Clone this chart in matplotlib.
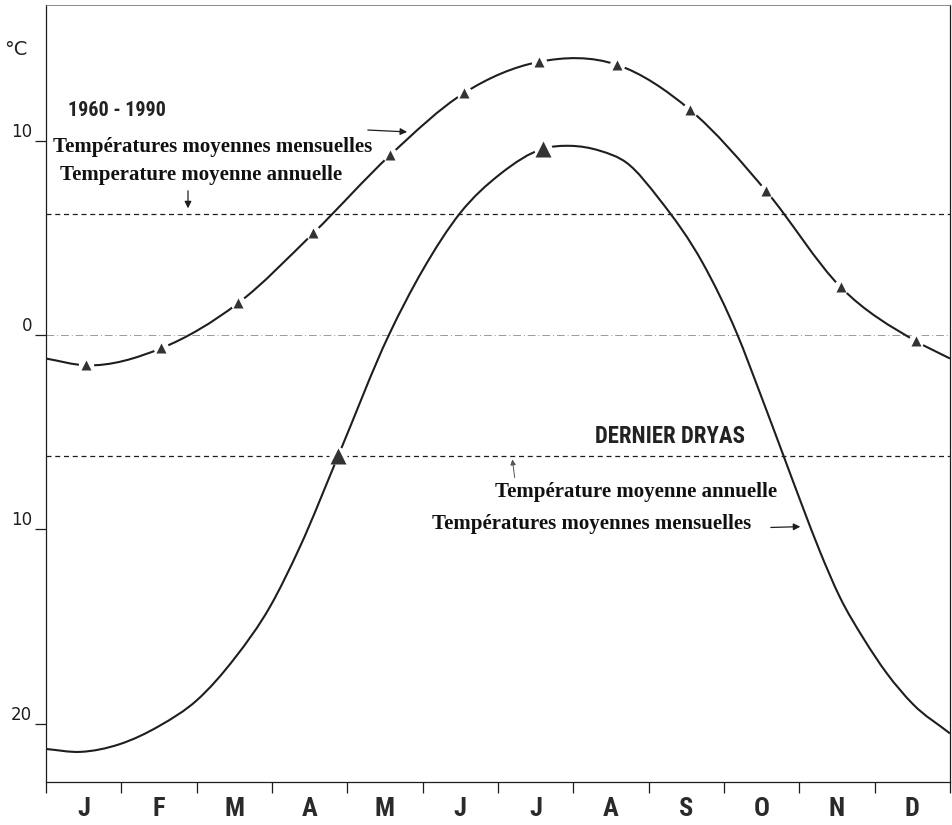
import matplotlib
matplotlib.use("Agg")
import matplotlib.pyplot as plt
import numpy as np
from matplotlib.path import Path
from matplotlib.patches import PathPatch
from matplotlib import font_manager

# --- data (x in months from 1 Jan, y in deg C) ---
months = ["J", "F", "M", "A", "M", "J", "J", "A", "S", "O", "N", "D"]

# 1960-1990 monthly means (triangles)
modern_x = [0.53, 1.53, 2.55, 3.55, 4.57, 5.55, 6.54, 7.58, 8.55, 9.56, 10.55, 11.55]
modern_t = [-1.55, -0.67, 1.65, 5.26, 9.28, 12.47, 14.07, 13.92, 11.6, 7.42, 2.47, -0.31]
modern_edge = [-1.2, -1.2]      # curve value at 1 Jan / 31 Dec
modern_annual = 6.24

# Dernier Dryas curve (traced points)
dryas_x = [0.0, 0.45, 0.98, 1.51, 2.0, 2.51, 2.97, 3.37, 3.88, 4.55, 5.0, 5.5,
           6.03, 6.6, 6.96, 7.35, 7.71, 8.15, 8.72, 9.17, 9.48, 9.78, 10.05, 10.27, 10.54,
           10.85, 11.16, 11.51, 12.0]
dryas_t = [-21.3, -21.45, -21.05, -20.1, -18.8, -16.6, -14.0, -10.9, -6.2, 0.0, 3.35, 6.3,
           8.3, 9.6, 9.75, 9.5, 8.87, 6.96, 3.7, 0.1, -3.0, -6.1, -8.9, -11.1, -13.5,
           -15.6, -17.4, -19.0, -20.5]
dryas_marks_x = [3.88, 6.6]
dryas_marks_t = [-6.2, 9.6]
dryas_annual = -6.2

ytick_vals = [10, 0, -10, -20]
ytick_labels = ["10", "0", "10", "20"]


def smooth_path(xs, ys):
    # cubic Hermite curve in x, drawn as Bezier segments
    x = np.asarray(xs, float)
    y = np.asarray(ys, float)
    m = np.gradient(y, x)
    verts = [(x[0], y[0])]
    codes = [Path.MOVETO]
    for i in range(len(x) - 1):
        h = x[i + 1] - x[i]
        verts += [(x[i] + h / 3, y[i] + m[i] * h / 3),
                  (x[i + 1] - h / 3, y[i + 1] - m[i + 1] * h / 3),
                  (x[i + 1], y[i + 1])]
        codes += [Path.CURVE4] * 3
    return Path(verts, codes)


names = {f.name for f in font_manager.fontManager.ttflist}
narrow = [n for n in ["Liberation Sans Narrow", "Roboto Condensed", "DejaVu Sans"] if n in names]
serif = ["Liberation Serif", "DejaVu Serif"]

fig = plt.figure(figsize=(9.53, 8.25), dpi=100)
ax = fig.add_axes([46 / 953, 43 / 825, 904 / 953, 777 / 825])
ax.set_xlim(0, 12)
ax.set_ylim(-23.0, 17.0)

ink = "#1e1e1e"

# reference lines
ax.axhline(0, color="#9a9a9a", lw=0.7, ls=(0, (8, 3, 1, 3)), zorder=1)
ax.axhline(modern_annual, color=ink, lw=0.9, ls=(0, (4, 3)), zorder=1)
ax.axhline(dryas_annual, color=ink, lw=0.9, ls=(0, (4, 3)), zorder=1)

# curves
mx = [0.0] + modern_x + [12.0]
mt = [modern_edge[0]] + modern_t + [modern_edge[1]]
ax.add_patch(PathPatch(smooth_path(mx, mt), fill=False, ec=ink, lw=1.5, zorder=2))
ax.add_patch(PathPatch(smooth_path(dryas_x, dryas_t), fill=False, ec=ink, lw=1.5, zorder=2))

# markers with small gaps in the line
ax.plot(modern_x, modern_t, "o", ms=11, color="white", mec="none", zorder=3)
ax.plot(modern_x, modern_t, "^", ms=7, color="#333333", mec="none", zorder=4)
ax.plot(dryas_marks_x, dryas_marks_t, "o", ms=13, color="white", mec="none", zorder=3)
ax.plot(dryas_marks_x, dryas_marks_t, "^", ms=11, color="#333333", mec="none", zorder=4)

# axes styling
for s in ax.spines.values():
    s.set_linewidth(0.9)
    s.set_color(ink)
ax.spines["top"].set_color("#777777")
ax.spines["top"].set_linewidth(0.6)

ax.set_yticks(ytick_vals)
ax.set_yticklabels(ytick_labels, fontsize=12, family="DejaVu Sans", color="#222222")
for lab in ax.get_yticklabels():
    lab.set_verticalalignment("bottom")
ax.tick_params(axis="y", direction="out", length=8, width=0.9, pad=2, colors=ink)

ax.set_xticks(range(13))
ax.set_xticklabels([])
ax.set_xticks(np.arange(12) + 0.5, minor=True)
ax.set_xticklabels(months, minor=True, fontsize=19, fontweight="bold",
                   family=narrow, fontstretch="condensed", color="#2a2a2a")
ax.tick_params(axis="x", which="major", direction="out", length=8, width=0.9, colors=ink)
ax.tick_params(axis="x", which="minor", length=0, pad=11)

ax.text(-0.55, 14.7, "°C", fontsize=14, family="DejaVu Sans", va="center", ha="left",
        color="#222222", clip_on=False)

ax.text(0.29, 11.55, "1960 - 1990", fontsize=14.5, fontweight="bold", family=narrow,
        fontstretch="condensed", va="center", ha="left", color="#222222")
ax.text(0.093, 9.43, "Températures moyennes mensuelles", fontsize=15, fontweight="bold",
        family=serif, va="baseline", ha="left", color="#111111")
ax.text(0.186, 7.99, "Temperature moyenne annuelle", fontsize=15, fontweight="bold",
        family=serif, va="baseline", ha="left", color="#111111")
ax.annotate("", xy=(4.83, 10.46), xytext=(4.235, 10.57),
            arrowprops=dict(arrowstyle="-|>", color=ink, lw=0.9, mutation_scale=10))
ax.annotate("", xy=(1.885, 6.39), xytext=(1.885, 7.58),
            arrowprops=dict(arrowstyle="-|>", color=ink, lw=0.9, mutation_scale=10))

ax.text(7.29, -5.57, "DERNIER DRYAS", fontsize=16.5, fontweight="bold", family=narrow,
        fontstretch="condensed", va="baseline", ha="left", color="#222222")
ax.text(5.96, -8.35, "Température moyenne annuelle", fontsize=15, fontweight="bold",
        family=serif, va="baseline", ha="left", color="#111111")
ax.text(5.12, -9.95, "Températures moyennes mensuelles", fontsize=15, fontweight="bold",
        family=serif, va="baseline", ha="left", color="#111111")
ax.annotate("", xy=(6.186, -6.25), xytext=(6.226, -7.47),
            arrowprops=dict(arrowstyle="-|>", color="#555555", lw=0.7, mutation_scale=8))
ax.annotate("", xy=(10.05, -9.85), xytext=(9.585, -9.9),
            arrowprops=dict(arrowstyle="-|>", color=ink, lw=0.9, mutation_scale=10))

fig.savefig("out.png", dpi=100)
